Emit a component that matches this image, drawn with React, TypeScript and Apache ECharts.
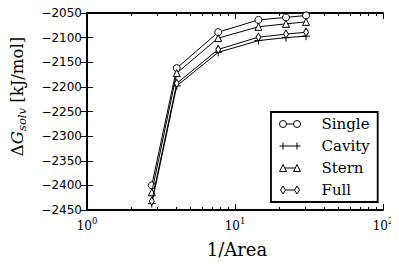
import React, { useEffect, useRef } from "react";
import * as echarts from "echarts";

// ---- data ----
const X_VALUES = [2.74, 4.04, 7.7, 14.4, 22.1, 30.2];
const SERIES_NAMES = ["Single", "Cavity", "Stern", "Full"];
const SINGLE = [-2400, -2162, -2089, -2064, -2059, -2055];
const CAVITY = [-2437, -2198, -2130, -2106, -2100, -2097];
const STERN = [-2414, -2172, -2101, -2078, -2072, -2068];
const FULL = [-2432, -2193, -2124, -2099, -2093, -2089];
const SERIES_VALUES = [SINGLE, CAVITY, STERN, FULL];

const Y_MIN = -2450;
const Y_MAX = -2050;
const Y_STEP = 50;
const X_MIN = 1;
const X_MAX = 100;
const X_MAJOR = [1, 10, 100];
const X_MINOR = [2, 3, 4, 5, 6, 7, 8, 9, 20, 30, 40, 50, 60, 70, 80, 90];

// ---- styles ----
const SERIF = "DejaVu Serif";
const SANS = "DejaVu Sans";
const BLACK = "#000";
const FRAME = 1.8;

const SYMBOLS: any[] = [
  "circle",
  "path://M3.5,0L3.5,7M0,3.5L7,3.5",
  "triangle",
  "path://M2.5,0L5,4L2.5,8L0,4Z",
];
const SYMBOL_SIZES: any[] = [7, 8, 7, [5, 8]];

const ICONS = [
  "path://M0,4A3.5,3.5,0,1,1,7,4A3.5,3.5,0,1,1,0,4ZM7,4L14,4M14,4A3.5,3.5,0,1,1,21,4A3.5,3.5,0,1,1,14,4ZM0,0M37,8",
  "path://M3.5,0.5L3.5,7.5M0,4L21,4M17.5,0.5L17.5,7.5M0,0M37,8",
  "path://M3.5,0.5L7,7.5L0,7.5ZM5.25,4L15.75,4M17.5,0.5L21,7.5L14,7.5ZM0,0M37,8",
  "path://M3.5,0L6,4L3.5,8L1,4ZM6,4L15,4M17.5,0L20,4L17.5,8L15,4ZM0,0M37,8",
];

export default function App() {
  const ref = useRef<HTMLDivElement>(null);

  useEffect(() => {
    if (!ref.current) return;
    const chart = echarts.init(ref.current, null, { renderer: "svg" });

    const minorLog = X_MINOR.map((v) => Math.log10(v));
    const majorLog = X_MAJOR.map((v) => Math.log10(v));
    const logMin = Math.log10(X_MIN);
    const logMax = Math.log10(X_MAX);

    const series = SERIES_NAMES.map((name, i) => ({
      name,
      type: "line",
      xAxisIndex: 0,
      yAxisIndex: 0,
      data: X_VALUES.map((x, j) => [x, SERIES_VALUES[i][j]]),
      symbol: SYMBOLS[i],
      symbolSize: SYMBOL_SIZES[i],
      showAllSymbol: true,
      lineStyle: { color: BLACK, width: 1 },
      itemStyle: { color: "#fff", borderColor: BLACK, borderWidth: 1 },
      emphasis: { disabled: true },
      z: 2 + i,
    }));

    const option: any = {
      animation: false,
      backgroundColor: "#fff",
      grid: { left: 87, right: 16, top: 13, bottom: 56, containLabel: false },
      xAxis: [
        {
          type: "log",
          logBase: 10,
          min: X_MIN,
          max: X_MAX,
          position: "bottom",
          name: "1/Area",
          nameLocation: "middle",
          nameGap: 30,
          nameTextStyle: { fontFamily: SERIF, fontSize: 18, color: BLACK, padding: [0, 0, 0, 4] },
          axisLine: { show: true, lineStyle: { color: BLACK, width: FRAME } },
          axisTick: { show: true, inside: true, length: 6, lineStyle: { color: BLACK, width: 1 } },
          minorTick: { show: false },
          splitLine: { show: false },
          axisLabel: {
            show: true,
            showMaxLabel: true,
            showMinLabel: true,
            margin: 6,
            formatter: (v: number) => `{n|10}{s|${Math.round(Math.log10(v))}}`,
            rich: {
              n: { fontFamily: SERIF, fontSize: 12, color: BLACK, lineHeight: 16, verticalAlign: "bottom" },
              s: { fontFamily: SERIF, fontSize: 8.5, color: BLACK, lineHeight: 10, verticalAlign: "top" },
            },
          },
        },
        {
          type: "value",
          min: logMin,
          max: logMax,
          position: "bottom",
          axisLine: { show: false },
          axisTick: { show: true, inside: true, length: 3, customValues: minorLog, lineStyle: { color: BLACK, width: 1 } },
          axisLabel: { show: false },
          splitLine: { show: false },
        },
        {
          type: "value",
          min: logMin,
          max: logMax,
          position: "top",
          axisLine: { show: true, lineStyle: { color: BLACK, width: FRAME } },
          axisTick: { show: true, inside: true, length: 6, customValues: majorLog, lineStyle: { color: BLACK, width: 1 } },
          axisLabel: { show: false },
          splitLine: { show: false },
        },
        {
          type: "value",
          min: logMin,
          max: logMax,
          position: "top",
          axisLine: { show: false },
          axisTick: { show: true, inside: true, length: 3, customValues: minorLog, lineStyle: { color: BLACK, width: 1 } },
          axisLabel: { show: false },
          splitLine: { show: false },
        },
      ],
      yAxis: [
        {
          type: "value",
          min: Y_MIN,
          max: Y_MAX,
          interval: Y_STEP,
          position: "left",
          name: "{d|Δ}{g|G}{s|solv}{n| [kJ/mol]}",
          nameLocation: "middle",
          nameRotate: 90,
          nameGap: 59,
          nameTextStyle: {
            fontFamily: SERIF,
            fontSize: 16.5,
            color: BLACK,
            padding: [0, 0, 0, 30],
            rich: {
              d: { fontFamily: SERIF, fontSize: 16.5, color: BLACK, lineHeight: 22, verticalAlign: "middle" },
              g: { fontFamily: SERIF, fontSize: 16.5, fontStyle: "italic", color: BLACK, lineHeight: 22, verticalAlign: "middle" },
              s: { fontFamily: SERIF, fontSize: 11.5, fontStyle: "italic", color: BLACK, lineHeight: 13, verticalAlign: "bottom" },
              n: { fontFamily: SERIF, fontSize: 16.5, color: BLACK, lineHeight: 22, verticalAlign: "middle" },
            },
          },
          axisLine: { show: true, lineStyle: { color: BLACK, width: FRAME } },
          axisTick: { show: true, inside: true, length: 6, lineStyle: { color: BLACK, width: 1 } },
          splitLine: { show: false },
          axisLabel: {
            show: true,
            margin: 5,
            fontFamily: SANS,
            fontSize: 12,
            color: BLACK,
            formatter: (v: number) => String(v).replace("-", "\u2212"),
          },
        },
        {
          type: "value",
          min: Y_MIN,
          max: Y_MAX,
          interval: Y_STEP,
          position: "right",
          axisLine: { show: true, lineStyle: { color: BLACK, width: FRAME } },
          axisTick: { show: true, inside: true, length: 6, lineStyle: { color: BLACK, width: 1 } },
          splitLine: { show: false },
          axisLabel: { show: false },
        },
      ],
      legend: {
        orient: "vertical",
        left: 271,
        top: 112,
        padding: [3, 8, 3, 8],
        itemGap: 4,
        itemWidth: 37,
        itemHeight: 8,
        borderColor: BLACK,
        borderWidth: FRAME,
        borderRadius: 0,
        backgroundColor: "#fff",
        selectedMode: false,
        textStyle: { fontFamily: SERIF, fontSize: 15, color: BLACK, lineHeight: 18 },
        data: SERIES_NAMES.map((name, i) => ({
          name,
          icon: ICONS[i],
          itemStyle: { color: "#fff", borderColor: BLACK, borderWidth: 1 },
        })),
      },
      series,
    };

    chart.setOption(option);
    return () => chart.dispose();
  }, []);

  return <div ref={ref} style={{ width: 399, height: 266, margin: -8 }} />;
}
